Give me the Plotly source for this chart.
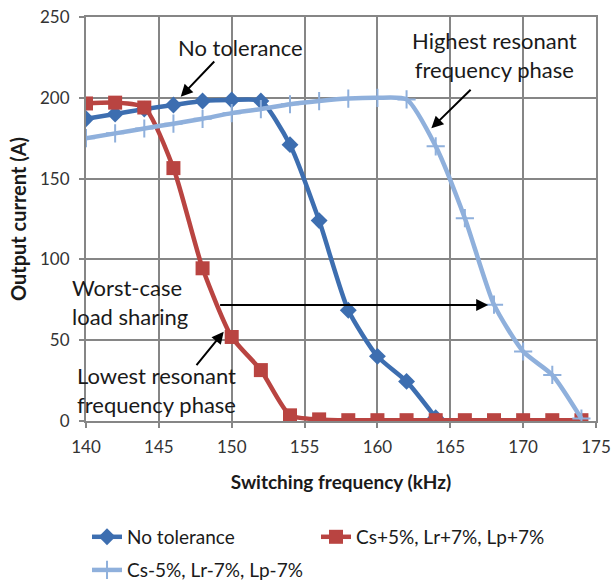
import plotly.graph_objects as go

# Switching frequency (kHz) and output current (A) per tolerance case
freq_nominal = [140, 142, 144, 146, 148, 150, 152, 154, 156, 158, 160, 162, 164]
current_nominal = [187, 190, 193, 195.5, 198, 198.6, 198, 171, 124, 68.5, 40, 24.5, 2]

freq_plus = [140, 142, 144, 146, 148, 150, 152, 154, 156, 158, 160, 162, 164,
             166, 168, 170, 172, 174]
current_plus = [196.5, 197, 194, 156.5, 94.5, 52, 31.5, 3.5, 1, 0.5, 0.5, 0.5, 0.5,
                0.5, 0.5, 0.5, 0.5, 0.5]

freq_minus = [140, 142, 144, 146, 148, 150, 152, 154, 156, 158, 160, 162, 164,
              166, 168, 170, 172, 174]
current_minus = [175, 178, 181, 184, 187, 190.5, 193, 196, 198, 199.5, 200, 199,
                 170, 125.5, 72, 43, 28.5, 1.5]

names = ["No tolerance", "Cs+5%, Lr+7%, Lp+7%", "Cs-5%, Lr-7%, Lp-7%"]

FONT = "Lato, 'Open Sans', Arial, sans-serif"
DARK_BLUE = "#3d6eb0"
RED = "#b94441"
LIGHT_BLUE = "#8fb0dc"
GRID = "#868686"
TEXT = "#1a1a1a"

fig = go.Figure()
fig.add_trace(go.Scatter(
    x=freq_nominal, y=current_nominal, name=names[0], mode="lines+markers",
    line=dict(color=DARK_BLUE, width=4.5, shape="spline", smoothing=0.6),
    marker=dict(symbol="diamond", size=13, color=DARK_BLUE),
    legend="legend", showlegend=True,
))
fig.add_trace(go.Scatter(
    x=freq_plus, y=current_plus, name=names[1], mode="lines+markers",
    line=dict(color=RED, width=4.5, shape="spline", smoothing=0.6),
    marker=dict(symbol="square", size=14, color=RED),
    legend="legend3", showlegend=True,
))
fig.add_trace(go.Scatter(
    x=freq_minus, y=current_minus, name=names[2], mode="lines+markers",
    line=dict(color=LIGHT_BLUE, width=4.5, shape="spline", smoothing=0.6),
    marker=dict(symbol="cross-thin", size=13, color=LIGHT_BLUE,
                line=dict(color=LIGHT_BLUE, width=2)),
    legend="legend2", showlegend=True,
))

text_font = dict(family=FONT, size=22, color=TEXT)
arrow_style = dict(showarrow=True, arrowhead=2, arrowsize=1.2, arrowwidth=2,
                   arrowcolor="#000000", text="", xref="x", yref="y",
                   axref="x", ayref="y")

annotations = [
    dict(x=150.6, y=231, text="No tolerance", showarrow=False, font=text_font,
         xanchor="center", yanchor="middle"),
    dict(x=168.0, y=226.5, text="Highest resonant<br>frequency phase",
         showarrow=False, font=text_font, xanchor="center", yanchor="middle"),
    dict(x=-0.032, xref="paper", y=73.5, yref="y",
         text="Worst-case<br>load sharing", showarrow=False,
         font=text_font, xanchor="left", yanchor="middle", align="left"),
    dict(x=-0.022, xref="paper", y=19.2, yref="y",
         text="Lowest resonant<br>frequency phase",
         showarrow=False, font=text_font, xanchor="left", yanchor="middle",
         align="left"),
    dict(x=146.5, y=200.7, ax=148.9, ay=223.4, **arrow_style),
    dict(x=163.7, y=181.1, ax=166.5, ay=205.9, **arrow_style),
    dict(x=167.6, y=71.8, ax=149.1, ay=71.8, **arrow_style),
    dict(x=149.45, y=55.3, ax=147.5, ay=33.6, **arrow_style),
]

axis_common = dict(
    showgrid=True, gridcolor=GRID, gridwidth=2,
    showline=True, linecolor=GRID, linewidth=2, mirror=True,
    ticks="outside", ticklen=5, tickcolor=GRID, tickwidth=1.5,
    tickfont=dict(family=FONT, size=17, color="#333333"),
    zeroline=False, automargin=False,
)

legend_common = dict(
    orientation="h", xanchor="left", yanchor="middle",
    font=dict(family=FONT, size=19, color=TEXT),
    bgcolor="rgba(0,0,0,0)", itemwidth=30, visible=True,
)

fig.update_layout(
    width=613, height=583,
    margin=dict(l=86, r=17, t=17, b=162, autoexpand=False),
    paper_bgcolor="white", plot_bgcolor="white",
    font=dict(family=FONT),
    showlegend=True,
    xaxis=dict(range=[140, 175], tick0=140, dtick=5, ticklabelstandoff=5,
               title=dict(text="<b>Switching frequency (kHz)</b>",
                          font=dict(family=FONT, size=19, color=TEXT),
                          standoff=19),
               **axis_common),
    yaxis=dict(range=[0, 250], tick0=0, dtick=50, ticklabelstandoff=6,
               title=dict(text="<b>Output current (A)</b>",
                          font=dict(family=FONT, size=20, color=TEXT),
                          standoff=8),
               **axis_common),
    legend=dict(x=0.002, y=-0.287, **legend_common),
    legend3=dict(x=0.451, y=-0.287, **legend_common),
    legend2=dict(x=0.002, y=-0.369, **legend_common),
    annotations=annotations,
)

fig.write_html("out.html")
